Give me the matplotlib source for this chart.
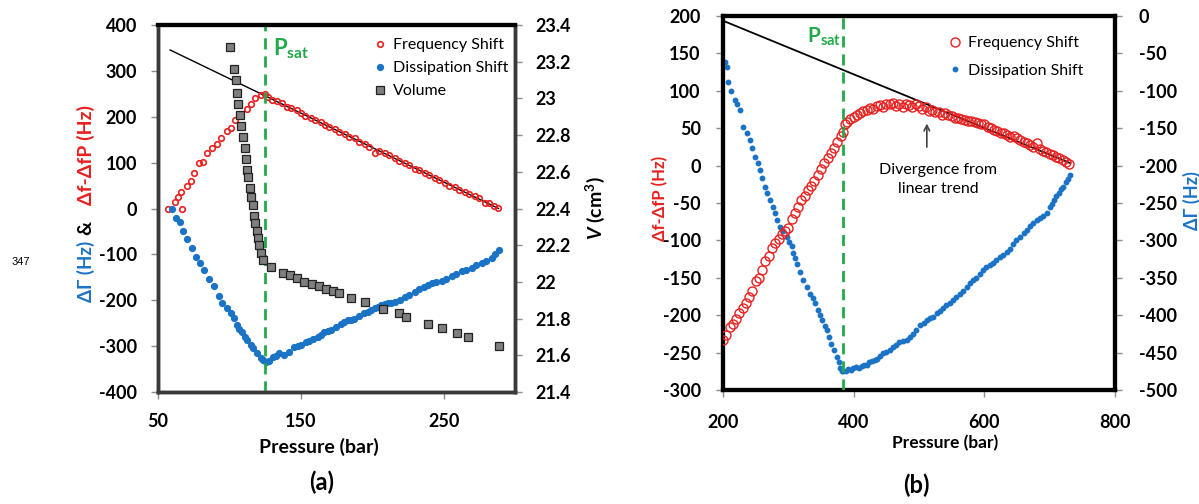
import matplotlib
matplotlib.use('Agg')
import matplotlib.pyplot as plt
from matplotlib.lines import Line2D

plt.rcParams['font.family'] = ['Lato', 'DejaVu Sans']
plt.rcParams['mathtext.fontset'] = 'custom'
plt.rcParams['mathtext.rm'] = 'Lato:bold'
plt.rcParams['mathtext.bf'] = 'Lato:bold'
plt.rcParams['mathtext.it'] = 'Lato:bold:italic'
plt.rcParams['axes.unicode_minus'] = False

RED = '#e8201f'
BLUE = '#1a73c4'
GREEN = '#22aa4a'
GRAY = '#7f7f7f'

# ---------------- panel (a) data ----------------
fa_p = [57, 62, 64, 66, 66.5, 70, 73, 75.5, 79, 81.5, 84, 88, 91, 94, 98, 101, 104, 107,
        112, 115, 118, 122, 125,
        127, 130, 133, 137, 140, 143, 147, 150, 153, 157, 160, 164, 167, 170, 174, 177,
        181, 184, 188, 191, 195, 198, 202, 205, 209, 212, 216, 219, 223, 226, 230, 233,
        237, 240, 244, 247, 251, 254, 258, 261, 265, 268, 272, 275, 279, 282, 285, 288]
fa_v = [0, 14, 26, 37, 0, 48, 59, 77, 99, 102, 120, 131, 141, 153, 169, 175, 192, 204,
        216, 227, 240, 247, 249,
        244, 236, 234, 229, 221, 219, 214, 209, 202, 198, 194, 189, 181, 178, 174, 166,
        162, 155, 153, 145, 141, 134, 121, 126, 122, 117, 110, 103, 99, 95, 86, 84,
        78, 73, 66, 63, 55, 50, 47, 41, 36, 32, 27, 22, 13, 12, 5, 1]

da_p = [59.6, 62.7, 65.5, 67.8, 70.6, 73.7, 76.8, 79.6, 82.5, 85.5, 89, 92.5, 94.9, 98.4,
        101, 103, 105.4, 107, 109, 111, 112.5, 115, 116.7, 119.5, 121.8, 123.5, 125.4,
        127.6, 130.8, 132.5, 134.7, 138.2, 141.8, 145.3, 148, 150, 153.5, 156, 158.2,
        161.7, 164, 166.4, 169, 171.1, 174.6, 178.2, 180.5, 182.9, 185, 187.5, 191, 194.6,
        197, 199.3, 202, 204, 206, 208.7, 211, 213.4, 216, 219.3, 222.7, 226, 229.8, 233,
        236, 239.2, 242, 245, 248.6, 252, 255.6, 259, 262.7, 266, 269.7, 273, 276.8, 280,
        283.8, 286, 288.5]
da_v = [0, -21, -29, -48, -67, -87, -105, -118, -135, -154, -170, -190, -205, -217,
        -228, -239, -254, -262, -270, -280, -286, -298, -304, -315, -326, -330, -335,
        -332, -323, -322, -315, -319, -312, -302, -300, -297, -292, -289, -285,
        -280, -276, -270, -268, -264, -258, -251, -248, -244, -243, -241, -235, -228,
        -225, -221, -217, -214, -211, -208, -206, -205, -203, -200, -193, -188, -181, -176,
        -171, -166, -162, -161, -159, -153, -148, -142, -137, -134, -130, -124, -119, -114,
        -108, -100, -90]

vol_p = [100.7, 103.5, 104.4, 105.4, 106.3, 107.3, 108.2, 109.6, 110.6, 111.3, 112, 112.9,
         114.3, 115.3, 116.4, 117.1, 117.8, 119, 119.9, 120.9, 121.8, 123.5, 129.4, 137.8,
         142.5, 147.2, 152.3, 157.5, 162.9, 167.6, 172.3, 177, 185.2, 195.3, 207.5, 218.5,
         223.9, 239.2, 249, 259.6, 267.4, 289]
vol_v = [23.28, 23.16, 23.10, 23.03, 22.97, 22.91, 22.85, 22.79, 22.73, 22.67, 22.61, 22.57,
         22.51, 22.46, 22.42, 22.36, 22.32, 22.28, 22.24, 22.20, 22.16, 22.12, 22.08, 22.05,
         22.04, 22.02, 22.00, 21.99, 21.98, 21.96, 21.95, 21.94, 21.91, 21.89, 21.85, 21.83,
         21.81, 21.77, 21.75, 21.72, 21.70, 21.65]

trend_a_p = [58.5, 288.5]
trend_a_v = [345.5, 0]
psat_a = 125

# ---------------- panel (b) data ----------------
fb_p = [200, 205, 210, 215, 220, 225, 230, 235, 240, 245, 250, 255, 260, 265, 270, 275,
        280, 285, 290, 295, 300, 305, 310, 315, 320, 325, 330, 335, 340, 345, 350, 355,
        360, 365, 370, 375, 380, 383, 387, 390, 395, 400, 405, 410, 415, 420, 425, 430,
        435, 440, 445, 450, 455, 460, 465, 470, 475, 480, 485, 490, 495, 500, 505, 510,
        515, 520, 525, 530, 535, 540, 545, 550, 555, 560, 565, 570, 575, 580, 585, 590,
        595, 600, 605, 610, 615, 620, 625, 630, 635, 640, 645, 650, 655, 660, 665, 670,
        675, 680, 685, 690, 695, 700, 705, 710, 715, 720, 725, 730]
fb_v = [-233, -226, -216, -212, -205, -197, -191, -184, -176, -167, -154, -150, -139, -128,
        -121, -110, -104, -98, -91, -87, -84, -72, -64, -55, -46, -40, -33, -27, -21, -12,
        -4, 3, 10, 17, 24, 32, 40, 45, 56, 58, 62, 65, 68, 70, 73, 74, 77, 76, 80, 81, 79,
        83, 82, 84, 80, 83, 78, 83, 81, 79, 82, 80, 76, 79, 73, 75, 71, 72, 68, 70, 67, 66,
        63, 64, 62, 61, 59, 60, 58, 57, 56, 55, 52, 50, 48, 46, 44, 43, 41, 38, 40, 37, 34,
        32, 30, 27, 25, 30, 22, 20, 18, 16, 14, 12, 10, 8, 5, 2]

db_p = [203, 206.6, 208, 213, 218, 222, 226, 231, 236, 241, 245, 249, 253, 256.6, 260, 264,
        268, 272, 276, 279.7, 283, 287, 292, 297.5, 301, 305, 307.6, 310, 313, 318, 323,
        328, 333, 337, 341, 345, 348.5, 352, 356, 359, 363, 366, 370, 374, 377, 379, 382,
        384, 388, 392, 396, 399.5, 404, 408, 412, 416, 420, 424, 428, 432, 435, 440, 445,
        450, 455.6, 460, 465, 470, 475, 481, 486, 491, 496, 501.5, 507, 512, 517, 522, 527,
        532, 537, 542, 547.5, 552, 557, 562, 567, 573, 578, 583, 588, 593, 598.5, 603, 608,
        613, 618, 624, 629, 634, 639, 644, 649, 655, 660, 665, 670, 675, 680, 685, 690,
        695.5, 700, 703, 706, 710, 714, 718, 721, 725, 728, 731]
db_v = [-61, -68, -88, -100, -112, -118, -126, -148, -156, -166, -177, -188, -197, -206,
        -217, -228, -237, -246, -255, -264, -273, -282, -288, -295, -302, -308, -317, -324,
        -331, -342, -353, -362, -371, -377, -384, -393, -400, -406, -414, -420, -429, -438,
        -447, -456, -463, -471, -474, -475, -474, -472, -473, -471, -469, -470, -468, -466,
        -467, -463, -461, -460, -458, -455, -451, -449, -446, -443, -440, -436, -435, -433,
        -429, -425, -420, -413, -411, -407, -404, -402, -397, -394, -391, -387, -384, -380,
        -376, -371, -367, -362, -357, -353, -350, -345, -340, -336, -333, -330, -326, -322,
        -319, -316, -311, -305, -300, -296, -290, -286, -281, -277, -273, -270, -267, -264,
        -255, -251, -246, -240, -236, -231, -228, -222, -218, -213]

trend_b_p = [200, 731]
trend_b_v = [193.7, 3.5]
psat_b = 384

W, H = 1199, 504
fig = plt.figure(figsize=(W / 100, H / 100), dpi=100)


def fx(px):
    return px / W


def fy(py):
    return 1 - py / H


def style_ticks(a, pad):
    a.tick_params(direction='out', length=5, width=1, color='#8c8c8c',
                  labelsize=13, pad=pad)
    for lab in a.get_xticklabels() + a.get_yticklabels():
        lab.set_fontweight('bold')


# ================= panel (a) =================
ax = fig.add_axes([fx(158), fy(392), fx(515 - 158), (392 - 25) / H])
ax2 = ax.twinx()

ax.plot(trend_a_p, trend_a_v, color='black', lw=1.0, zorder=3)
ax.plot(fa_p, fa_v, 'o', ms=4, mfc='none', mec=RED, mew=1.2, zorder=4)
ax.plot(da_p, da_v, 'o', ms=4.2, color=BLUE, mec=BLUE, zorder=4)
ax2.plot(vol_p, vol_v, 's', ms=5.5, mfc=GRAY, mec='#222222', mew=0.9, zorder=2)
ax.axvline(psat_a, color=GREEN, lw=2, ls=(0, (4, 2.5)), zorder=5)
ax.text(130.5, 348, r'P$_{\mathrm{sat}}$', color=GREEN, fontsize=16,
        fontweight='bold', va='center', ha='left')

ax.set_xlim(50, 300)
ax.set_ylim(-400, 400)
ax2.set_ylim(21.4, 23.4)
ax.set_xticks([50, 150, 250])
ax.set_yticks(range(-400, 401, 100))
ax2.set_yticks([21.4, 21.6, 21.8, 22, 22.2, 22.4, 22.6, 22.8, 23, 23.2, 23.4])
ax2.set_yticklabels(['21.4', '21.6', '21.8', '22', '22.2', '22.4', '22.6', '22.8',
                     '23', '23.2', '23.4'])
style_ticks(ax, 10)
style_ticks(ax2, 10)
ax.tick_params(axis='x', pad=10)

for a in (ax, ax2):
    for s in ('left', 'bottom', 'right'):
        a.spines[s].set_color('#3a3a3a')
        a.spines[s].set_linewidth(2.5)
    a.spines['top'].set_color('black')
    a.spines['top'].set_linewidth(3)

handles_a = [
    Line2D([], [], ls='none', marker='o', ms=4, mfc='none', mec=RED, mew=1.2),
    Line2D([], [], ls='none', marker='o', ms=4.2, color=BLUE),
    Line2D([], [], ls='none', marker='s', ms=5.5, mfc=GRAY, mec='#222222', mew=0.9),
]
fig.legend(handles_a, ['Frequency Shift', 'Dissipation Shift', 'Volume'],
           loc='upper left', bbox_to_anchor=(fx(364), fy(30)), frameon=False,
           fontsize=11.5, handlelength=1.0, handletextpad=0.3, labelspacing=0.55,
           borderpad=0)

# multi-colour left label of panel (a)
fig.text(fx(86), fy(271), '\u0394\u0393 (Hz)', color=BLUE, rotation=90, fontsize=13.5,
         fontweight='bold', ha='center', va='center')
fig.text(fx(86), fy(228), '&', color='black', rotation=90, fontsize=14,
         fontweight='bold', ha='center', va='center')
fig.text(fx(86), fy(155), '\u0394f-\u0394fP (Hz)', color=RED, rotation=90, fontsize=14,
         fontweight='bold', ha='center', va='center')
fig.text(fx(595), fy(208), r'$V$ (cm$^{3}$)', rotation=90, fontsize=14,
         fontweight='bold', ha='center', va='center')
fig.text(fx(319), fy(447), 'Pressure (bar)', fontsize=14, fontweight='bold',
         ha='center', va='center')
fig.text(fx(322), fy(482), '(a)', fontsize=17, fontweight='bold', ha='center',
         va='center')
fig.text(fx(12), fy(262), '347', fontsize=8, family='Liberation Sans', ha='left',
         va='center')

# ================= panel (b) =================
bx = fig.add_axes([fx(723), fy(390), fx(1115 - 723), (390 - 16) / H])
bx2 = bx.twinx()

bx.plot(trend_b_p, trend_b_v, color='black', lw=1.3, zorder=3)
bx.plot(fb_p, fb_v, 'o', ms=6.5, mfc='none', mec=RED, mew=1.0, zorder=4)
bx2.plot(db_p, db_v, 'o', ms=3.2, color=BLUE, mec=BLUE, zorder=4)
bx.axvline(psat_b, color=GREEN, lw=2, ls=(0, (4, 2.5)), zorder=5)
bx.text(381, 172, r'P$_{\mathrm{sat}}$', color=GREEN, fontsize=15,
        fontweight='bold', va='center', ha='right')
bx.annotate('', xy=(512, 60), xytext=(512, 21),
            arrowprops=dict(arrowstyle='->', color='#444444', lw=1.2))
bx.text(529, -19, 'Divergence from\nlinear trend', fontsize=11.5, ha='center',
        va='center', linespacing=1.45)

bx.set_xlim(200, 800)
bx.set_ylim(-300, 200)
bx2.set_ylim(-500, 0)
bx.set_xticks([200, 400, 600, 800])
bx.set_yticks(range(-300, 201, 50))
bx2.set_yticks(range(-500, 1, 50))
style_ticks(bx, 11)
style_ticks(bx2, 12)
bx.tick_params(axis='x', pad=12)
bx.set_zorder(bx2.get_zorder() + 1)
bx.patch.set_visible(False)

for a in (bx, bx2):
    for s in ('left', 'bottom', 'right', 'top'):
        a.spines[s].set_color('black')
        a.spines[s].set_linewidth(3)

handles_b = [
    Line2D([], [], ls='none', marker='o', ms=6.5, mfc='none', mec=RED, mew=1.0),
    Line2D([], [], ls='none', marker='o', ms=3.2, color=BLUE),
]
fig.legend(handles_b, ['Frequency Shift', 'Dissipation Shift'],
           loc='upper left', bbox_to_anchor=(fx(939), fy(28)), frameon=False,
           fontsize=11.5, handlelength=1.0, handletextpad=0.3, labelspacing=0.85,
           borderpad=0)

fig.text(fx(660), fy(198), '\u0394f-\u0394fP (Hz)', color=RED, rotation=90, fontsize=12,
         fontweight='bold', ha='center', va='center')
fig.text(fx(1192), fy(201), '\u0394\u0393 (Hz)', color=BLUE, rotation=90, fontsize=13,
         fontweight='bold', ha='center', va='center')
fig.text(fx(945), fy(443), 'Pressure (bar)', fontsize=12.5, fontweight='bold',
         ha='center', va='center')
fig.text(fx(916), fy(485), '(b)', fontsize=17, fontweight='bold', ha='center',
         va='center')

fig.savefig('out.png', dpi=100, facecolor='white')
